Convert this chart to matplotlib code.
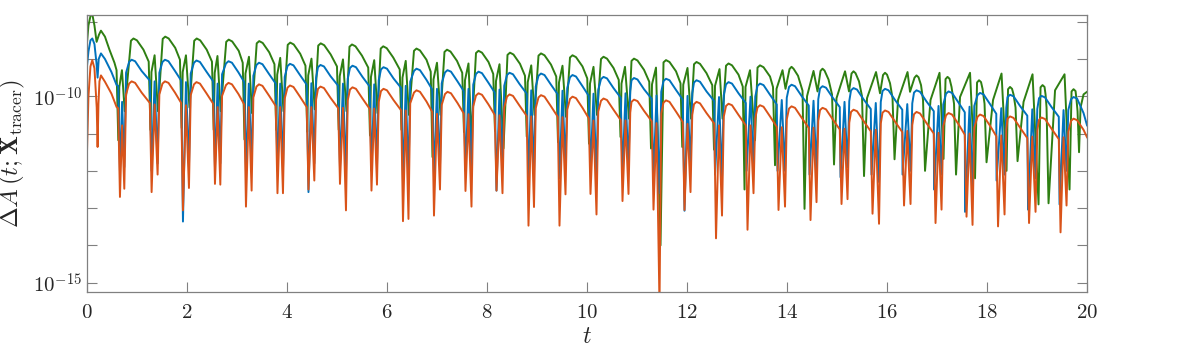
import numpy as np
import matplotlib
matplotlib.use("Agg")
import matplotlib.pyplot as plt
from matplotlib.ticker import FixedLocator, NullFormatter, FuncFormatter

plt.rcParams["mathtext.fontset"] = "cm"
plt.rcParams["font.family"] = "serif"
plt.rcParams["font.serif"] = ["DejaVu Serif"]

# palette (MATLAB-like)
BLUE = "#0072BD"; ORANGE = "#D95319"; GREEN = "#2E7F12"; AXIS = "#808080"

# ---- data: values are log10(Delta A) -------------------------------------
# orange / blue share one time base, one entry per oscillation cycle
SHOULDER_T = [0.625, 1.258, 1.885, 2.525, 3.145, 3.775, 4.395, 5.025, 5.655, 6.285, 6.905,
              7.535, 8.155, 8.795, 9.415, 10.035, 10.675, 11.295, 11.915, 12.545, 13.175,
              13.795, 14.435, 15.055, 15.675, 16.305, 16.935, 17.555, 18.185, 18.805, 19.435]
DIP1_T = [0.66, 1.293, 1.92, 2.56, 3.18, 3.81, 4.43, 5.06, 5.69, 6.32, 6.94, 7.57, 8.19, 8.83,
          9.45, 10.07, 10.71, 11.33, 11.95, 12.58, 13.21, 13.83, 14.47, 15.09, 15.71, 16.34,
          16.97, 17.59, 18.22, 18.84, 19.47]
MID_T = [0.703, 1.353, 1.98, 2.613, 3.237, 3.865, 4.488, 5.12, 5.745, 6.375, 7.0, 7.63, 8.25,
         8.885, 9.51, 10.13, 10.77, 11.39, 12.01, 12.64, 13.27, 13.895, 14.53, 15.15, 15.775,
         16.405, 17.03, 17.65, 18.285, 18.905, 19.53]
DIP2_T = [0.747, 1.413, 2.04, 2.667, 3.293, 3.92, 4.547, 5.18, 5.80, 6.43, 7.06, 7.69, 8.31,
          8.94, 9.57, 10.19, 10.83, 11.45, 12.07, 12.70, 13.33, 13.96, 14.59, 15.21, 15.84,
          16.47, 17.09, 17.71, 18.35, 18.97, 19.59]
KNEE_T = [0.782, 1.448, 2.075, 2.702, 3.328, 3.955, 4.582, 5.215, 5.835, 6.465, 7.095, 7.725,
          8.345, 8.975, 9.605, 10.225, 10.865, 11.485, 12.105, 12.735, 13.365, 13.995, 14.625,
          15.245, 15.875, 16.505, 17.125, 17.745, 18.385, 19.005, 19.625]
PRE_T = [0.843, 1.51, 2.14, 2.78, 3.39, 4.01, 4.62, 5.26, 5.88, 6.54, 7.16, 7.78, 8.40, 9.03,
         9.66, 10.28, 10.89, 11.53, 12.14, 12.78, 13.41, 14.04, 14.66, 15.28, 15.91, 16.54,
         17.18, 17.81, 18.41, 19.04, 19.68]
PEAK_T = [0.893, 1.56, 2.19, 2.83, 3.44, 4.06, 4.67, 5.31, 5.93, 6.59, 7.21, 7.83, 8.45, 9.08,
          9.71, 10.33, 10.94, 11.58, 12.19, 12.83, 13.46, 14.09, 14.71, 15.33, 15.96, 16.59,
          17.23, 17.86, 18.46, 19.09, 19.73]
CREST_T = [0.963, 1.63, 2.26, 2.90, 3.51, 4.13, 4.74, 5.38, 6.00, 6.66, 7.28, 7.90, 8.52, 9.15,
           9.78, 10.40, 11.01, 11.65, 12.26, 12.90, 13.53, 14.16, 14.78, 15.40, 16.03, 16.66,
           17.30, 17.93, 18.53, 19.16, 19.80]
FALL_T = [1.093, 1.76, 2.39, 3.03, 3.64, 4.26, 4.87, 5.51, 6.13, 6.79, 7.41, 8.03, 8.65, 9.28,
          9.91, 10.53, 11.14, 11.78, 12.39, 13.03, 13.66, 14.29, 14.91, 15.53, 16.16, 16.79,
          17.43, 18.06, 18.66, 19.29, 19.93]
BLUE_DIP1_T = [0.66, 1.293, 1.92, 2.56, 3.18, 3.81, 4.43, 5.06, 5.69, 6.32, 6.94, 7.57, 8.19,
               8.83, 9.45, 10.07, 10.71, 11.33, 11.95, 12.56, 13.19, 13.81, 14.45, 15.07, 15.69,
               16.31, 16.94, 17.56, 18.19, 18.82, 19.45]

ORANGE_LEAD_T = [0.0, 0.03, 0.07, 0.107, 0.15, 0.195, 0.213, 0.23, 0.25, 0.28, 0.36, 0.49, 0.593]
ORANGE_LEAD = [-11.54, -10.0, -9.2, -9.03, -9.25, -10.3, -11.36, -10.2, -9.6, -9.44, -9.61,
               -9.93, -10.29]
ORANGE_SHOULDER = [-10.32, -10.18, -10.18, -10.20, -10.22, -10.26, -10.29, -10.32, -10.34, -10.38,
                   -10.42, -10.46, -10.50, -10.53, -10.55, -10.59, -10.64, -10.67, -10.69, -10.73,
                   -10.78, -10.82, -10.85, -10.89, -10.94, -10.96, -11.00, -11.03, -11.07, -11.12,
                   -11.15]
ORANGE_DIP1 = [-12.70, -12.57, -13.06, -12.35, -12.96, -12.60, -12.50, -12.35, -12.53, -13.35,
               -13.20, -12.54, -12.53, -13.47, -13.47, -12.62, -12.81, -13.04, -13.05, -13.81,
               -13.58, -13.05, -13.32, -12.89, -13.15, -12.93, -13.40, -13.23, -13.49, -13.40,
               -13.65]
ORANGE_MID = [-10.78, -10.22, -10.24, -10.29, -10.29, -10.29, -10.29, -10.31, -10.33, -10.38,
              -10.47, -10.48, -10.51, -10.54, -10.56, -10.65, -10.65, -10.72, -10.74, -10.78,
              -10.78, -10.83, -10.84, -10.87, -10.90, -10.93, -10.98, -11.00, -11.05, -11.08,
              -11.10]
ORANGE_DIP2 = [-12.48, -12.10, -12.46, -12.37, -12.53, -12.60, -12.26, -13.06, -12.37, -13.29,
               -12.50, -12.96, -12.60, -12.97, -12.63, -13.17, -12.62, -15.60, -12.57, -13.20,
               -12.60, -12.96, -12.84, -12.76, -13.42, -12.89, -13.04, -13.45, -13.17, -13.10,
               -12.93]
ORANGE_KNEE = [-9.95, -9.95, -9.97, -9.99, -10.03, -10.06, -10.09, -10.11, -10.15, -10.19, -10.23,
               -10.27, -10.30, -10.32, -10.36, -10.41, -10.44, -10.46, -10.50, -10.55, -10.59,
               -10.62, -10.66, -10.71, -10.73, -10.77, -10.80, -10.84, -10.89, -10.92, -10.95]
ORANGE_PRE = [-9.66, -9.66, -9.68, -9.70, -9.74, -9.77, -9.80, -9.82, -9.86, -9.90, -9.94, -9.98,
              -10.01, -10.03, -10.07, -10.12, -10.15, -10.17, -10.21, -10.26, -10.30, -10.33,
              -10.37, -10.42, -10.44, -10.48, -10.51, -10.55, -10.60, -10.63, -10.66]
ORANGE_PEAK = [-9.60, -9.60, -9.62, -9.64, -9.68, -9.71, -9.74, -9.76, -9.80, -9.84, -9.88, -9.92,
               -9.95, -9.97, -10.01, -10.06, -10.09, -10.11, -10.15, -10.20, -10.24, -10.27,
               -10.31, -10.36, -10.38, -10.42, -10.45, -10.49, -10.54, -10.57, -10.60]
ORANGE_CREST = [-9.64, -9.64, -9.66, -9.68, -9.72, -9.75, -9.78, -9.80, -9.84, -9.88, -9.92,
                -9.96, -9.99, -10.01, -10.05, -10.10, -10.13, -10.15, -10.19, -10.24, -10.28,
                -10.31, -10.35, -10.40, -10.42, -10.46, -10.49, -10.53, -10.58, -10.61, -10.64]
ORANGE_FALL = [-9.90, -9.90, -9.92, -9.94, -9.98, -10.01, -10.04, -10.06, -10.10, -10.14, -10.18,
               -10.22, -10.25, -10.27, -10.31, -10.36, -10.39, -10.41, -10.45, -10.50, -10.54,
               -10.57, -10.61, -10.66, -10.68, -10.72, -10.75, -10.79, -10.84, -10.87, -10.90]
ORANGE_TAIL_T = [20.0]
ORANGE_TAIL = [-11.1]

BLUE_LEAD_T = [0.0, 0.03, 0.07, 0.107, 0.15, 0.19, 0.213, 0.235, 0.28, 0.36, 0.49, 0.593]
BLUE_LEAD = [-9.2, -8.8, -8.5, -8.45, -8.6, -9.1, -9.5, -9.0, -8.85, -9.0, -9.35, -9.7]
BLUE_SHOULDER = [-9.72, -9.58, -9.58, -9.60, -9.62, -9.66, -9.69, -9.72, -9.74, -9.78, -9.82,
                 -9.86, -9.90, -9.93, -9.95, -9.99, -10.04, -10.07, -10.09, -10.13, -10.18,
                 -10.22, -10.25, -10.29, -10.34, -10.36, -10.40, -10.43, -10.47, -10.52, -10.55]
BLUE_DIP1 = [-12.0, -12.0, -13.36, -11.9, -12.0, -12.0, -12.57, -11.9, -12.0, -12.3, -12.2, -12.0,
             -12.53, -12.2, -12.2, -12.0, -12.1, -12.2, -13.07, -12.1, -12.0, -12.0, -12.1,
             -12.17, -12.1, -12.1, -12.5, -13.1, -12.26, -13.04, -12.9]
BLUE_MID = [-10.15, -9.60, -9.62, -9.66, -9.66, -9.66, -9.65, -9.66, -9.68, -9.72, -9.80, -9.80,
            -9.82, -9.84, -9.85, -9.93, -9.92, -9.98, -9.99, -10.02, -10.01, -10.10, -10.12,
            -10.15, -10.18, -10.21, -10.26, -10.28, -10.32, -10.35, -10.37]
BLUE_DIP2 = [-11.9, -11.8, -11.9, -11.8, -11.9, -12.0, -11.8, -12.1, -11.9, -12.2, -11.9, -12.0,
             -11.9, -12.1, -11.9, -12.1, -11.9, -12.6, -11.9, -12.2, -11.9, -12.0, -12.0, -11.9,
             -12.3, -12.0, -12.1, -12.4, -12.1, -12.2, -12.0]
BLUE_KNEE = [-9.37, -9.37, -9.39, -9.41, -9.45, -9.48, -9.51, -9.53, -9.57, -9.61, -9.65, -9.69,
             -9.72, -9.74, -9.78, -9.83, -9.86, -9.88, -9.92, -9.97, -10.01, -10.04, -10.08,
             -10.13, -10.15, -10.19, -10.22, -10.26, -10.31, -10.34, -10.37]
BLUE_PRE = [-9.08, -9.08, -9.10, -9.12, -9.16, -9.19, -9.22, -9.24, -9.28, -9.32, -9.36, -9.40,
            -9.43, -9.45, -9.49, -9.54, -9.57, -9.59, -9.63, -9.68, -9.72, -9.75, -9.79, -9.84,
            -9.86, -9.90, -9.93, -9.97, -10.02, -10.05, -10.08]
BLUE_PEAK = [-9.02, -9.02, -9.04, -9.06, -9.10, -9.13, -9.16, -9.18, -9.22, -9.26, -9.30, -9.34,
             -9.37, -9.39, -9.43, -9.48, -9.51, -9.53, -9.57, -9.62, -9.66, -9.69, -9.73, -9.78,
             -9.80, -9.84, -9.87, -9.91, -9.96, -9.99, -10.02]
BLUE_CREST = [-9.06, -9.06, -9.08, -9.10, -9.14, -9.17, -9.20, -9.22, -9.26, -9.30, -9.34, -9.38,
              -9.41, -9.43, -9.47, -9.52, -9.55, -9.57, -9.61, -9.66, -9.70, -9.73, -9.77, -9.82,
              -9.84, -9.88, -9.91, -9.95, -10.00, -10.03, -10.06]
BLUE_FALL = [-9.32, -9.32, -9.34, -9.36, -9.40, -9.43, -9.46, -9.48, -9.52, -9.56, -9.60, -9.64,
             -9.67, -9.69, -9.73, -9.78, -9.81, -9.83, -9.87, -9.92, -9.96, -9.99, -10.03,
             -10.08, -10.10, -10.14, -10.17, -10.21, -10.26, -10.29, -10.45]
BLUE_TAIL_T = [20.0]
BLUE_TAIL = [-10.78]

# green: its own time base (its first dip drifts ahead of the others after t~13)
GREEN_LEAD_T = [0.0, 0.03, 0.07, 0.107, 0.15, 0.193, 0.24, 0.28, 0.36, 0.45, 0.55]
GREEN_LEAD = [-8.58, -8.1, -7.85, -7.8, -8.1, -8.54, -8.35, -8.24, -8.4, -8.75, -9.1]
GREEN_S1_T = [0.592, 1.235, 1.86, 2.50, 3.115, 3.75, 4.37, 5.00, 5.625, 6.255, 6.875, 7.505,
              8.125, 8.76, 9.385, 10.005, 10.635, 11.245, 11.87, 12.505, 13.115, 13.72, 14.31,
              14.90, 15.50, 16.11, 16.72, 17.34, 17.95, 18.57, 19.19]
GREEN_S1 = [-9.30, -9.07, -9.02, -9.07, -9.10, -9.14, -9.18, -9.20, -9.23, -9.28, -9.34, -9.37,
            -9.40, -9.45, -9.47, -9.52, -9.56, -9.61, -9.65, -9.70, -9.74, -9.75, -9.85, -9.95,
            -10.0, -10.05, -10.1, -10.2, -10.2, -10.3, -10.3]
GREEN_A_T = [0.627, 1.27, 1.895, 2.535, 3.15, 3.785, 4.405, 5.035, 5.66, 6.29, 6.91, 7.54, 8.16,
             8.795, 9.42, 10.04, 10.67, 11.28, 11.905, 12.54, 13.15, 13.76, 14.35, 14.94, 15.54,
             16.15, 16.76, 17.38, 17.99, 18.61, 19.23]
GREEN_A = [-11.18, -10.9, -10.85, -10.9, -11.16, -10.9, -10.95, -10.9, -11.05, -10.9, -11.63,
           -10.96, -10.93, -11.08, -11.23, -11.27, -11.09, -11.4, -11.36, -11.43, -12.5, -11.85,
           -13.02, -11.83, -12.14, -11.69, -12.0, -12.1, -11.77, -11.74, -12.87]
GREEN_S2_T = [0.647, 1.29, 1.915, 2.555, 3.17, 3.805, 4.425, 5.055, 5.68, 6.31, 6.93, 7.56, 8.18,
              8.815, 9.44, 10.06, 10.69, 11.30, 11.925, 12.56, 13.17, 13.79, 14.40, 14.99, 15.60,
              16.22, 16.87, 17.46, 18.12, 18.73, 19.36]
GREEN_S2 = [-9.75, -9.35, -9.35, -9.37, -9.39, -9.42, -9.44, -9.46, -9.48, -9.50, -9.55, -9.57,
            -9.59, -9.62, -9.63, -9.66, -9.66, -9.68, -9.69, -9.72, -9.75, -9.80, -10.0, -10.05,
            -10.05, -10.1, -10.1, -10.02, -10.1, -10.15, -9.84]
GREEN_M_T = [0.70, 1.353, 1.98, 2.61, 3.24, 3.865, 4.49, 5.12, 5.745, 6.375, 7.0, 7.63, 8.25,
             8.885, 9.51, 10.13, 10.76, 11.38, 12.01, 12.65, 13.26, 13.91, 14.53, 15.16, 15.78,
             16.41, 17.05, 17.66, 18.29, 18.91, 19.55]
GREEN_M = [-9.30, -8.90, -8.90, -8.92, -8.94, -8.97, -8.99, -9.01, -9.03, -9.05, -9.10, -9.12,
           -9.14, -9.17, -9.18, -9.21, -9.21, -9.23, -9.24, -9.27, -9.30, -9.30, -9.32, -9.33,
           -9.35, -9.35, -9.37, -9.37, -9.39, -9.41, -9.41]
GREEN_B_T = [0.755, 1.42, 2.05, 2.675, 3.30, 3.93, 4.555, 5.19, 5.81, 6.44, 7.07, 7.69, 8.33,
             8.95, 9.58, 10.20, 10.84, 11.47, 12.08, 12.71, 13.36, 13.97, 14.61, 15.24, 15.86,
             16.46, 17.13, 17.76, 18.39, 19.03, 19.65]
GREEN_B = [-10.4, -10.4, -10.3, -10.4, -10.45, -10.4, -10.35, -10.4, -10.45, -10.5, -10.5, -11.1,
           -11.4, -10.5, -10.55, -10.5, -10.6, -14.0, -10.6, -10.6, -11.18, -9.80, -9.87, -9.87,
           -9.92, -9.88, -11.68, -12.2, -12.0, -12.9, -12.5]
GREEN_PRE_T = [0.88, 1.515, 2.145, 2.785, 3.395, 4.015, 4.625, 5.25, 5.875, 6.54, 7.15, 7.78,
               8.41, 9.03, 9.66, 10.28, 10.89, 11.53, 12.14, 12.78, 13.41, 14.05, 14.67, 15.29,
               15.92, 16.55, 17.17, 17.80, 18.42, 19.07, 19.69]
GREEN_PRE = [-8.51, -8.46, -8.51, -8.54, -8.58, -8.62, -8.64, -8.67, -8.72, -8.78, -8.81, -8.84,
             -8.89, -8.91, -8.96, -9.00, -9.05, -9.09, -9.14, -9.18, -9.23, -9.27, -9.32, -9.39,
             -9.43, -9.50, -9.54, -9.63, -9.81, -9.76, -9.87]
GREEN_P_T = [0.93, 1.565, 2.195, 2.835, 3.445, 4.065, 4.675, 5.30, 5.925, 6.59, 7.20, 7.83, 8.46,
             9.08, 9.71, 10.33, 10.94, 11.58, 12.19, 12.83, 13.46, 14.09, 14.71, 15.33, 15.96,
             16.59, 17.21, 17.84, 18.46, 19.11, 19.73]
GREEN_P = [-8.45, -8.40, -8.45, -8.48, -8.52, -8.56, -8.58, -8.61, -8.66, -8.72, -8.75, -8.78,
           -8.83, -8.85, -8.90, -8.94, -8.99, -9.03, -9.08, -9.12, -9.17, -9.21, -9.26, -9.33,
           -9.37, -9.44, -9.48, -9.57, -9.75, -9.70, -9.81]
GREEN_CREST_T = [1.0, 1.635, 2.265, 2.905, 3.515, 4.135, 4.745, 5.37, 5.995, 6.66, 7.27, 7.90,
                 8.53, 9.15, 9.78, 10.40, 11.01, 11.65, 12.26, 12.90, 13.53, 14.13, 14.75, 15.37,
                 16.0, 16.63, 17.25, 17.88, 18.50, 19.15, 19.77]
GREEN_CREST = [-8.50, -8.45, -8.50, -8.53, -8.57, -8.61, -8.63, -8.66, -8.71, -8.77, -8.80,
               -8.83, -8.88, -8.90, -8.95, -8.99, -9.04, -9.08, -9.13, -9.17, -9.22, -9.26,
               -9.31, -9.38, -9.42, -9.49, -9.53, -9.62, -9.80, -9.75, -9.86]
GREEN_F_T = [1.13, 1.765, 2.395, 3.035, 3.645, 4.265, 4.875, 5.50, 6.125, 6.79, 7.40, 8.03, 8.66,
             9.28, 9.91, 10.53, 11.14, 11.78, 12.39, 13.03, 13.66, 14.22, 14.83, 15.44, 16.06,
             16.68, 17.29, 17.91, 18.53, 19.17, 19.79]
GREEN_F = [-8.75, -8.70, -8.75, -8.78, -8.82, -8.86, -8.88, -8.91, -8.96, -9.02, -9.05, -9.08,
           -9.13, -9.15, -9.20, -9.24, -9.29, -9.33, -9.38, -9.42, -9.47, -9.45, -9.55, -9.60,
           -9.65, -9.70, -9.75, -9.80, -9.95, -9.95, -10.1]
GREEN_TAIL_T = [19.81, 19.84, 19.87, 19.93, 20.0]
GREEN_TAIL = [-10.4, -11.5, -10.3, -9.95, -9.88]

X_TICKS = list(range(0, 21, 2))
Y_MAJOR = [1e-15, 1e-10]
Y_MINOR = [1e-14, 1e-13, 1e-12, 1e-11, 1e-9, 1e-8]


def trace(lead_t, lead_v, cyc_t, cyc_v, tail_t, tail_v):
    """Chain lead-in, per-cycle feature points (in time order) and tail."""
    t = np.concatenate([lead_t, np.column_stack(cyc_t).ravel(), tail_t])
    v = np.concatenate([lead_v, np.column_stack(cyc_v).ravel(), tail_v])
    return t, 10.0 ** v


def main():
    fig = plt.figure(figsize=(11.96, 3.49), dpi=100)
    ax = fig.add_axes([0.0727, 0.1633, 0.8362, 0.7937])

    gt, gv = trace(GREEN_LEAD_T, GREEN_LEAD,
                   [GREEN_S1_T, GREEN_A_T, GREEN_S2_T, GREEN_M_T, GREEN_B_T, GREEN_PRE_T,
                    GREEN_P_T, GREEN_CREST_T, GREEN_F_T],
                   [GREEN_S1, GREEN_A, GREEN_S2, GREEN_M, GREEN_B, GREEN_PRE, GREEN_P,
                    GREEN_CREST, GREEN_F],
                   GREEN_TAIL_T, GREEN_TAIL)
    bt, bv = trace(BLUE_LEAD_T, BLUE_LEAD,
                   [SHOULDER_T, BLUE_DIP1_T, MID_T, DIP2_T, KNEE_T, PRE_T, PEAK_T, CREST_T,
                    FALL_T],
                   [BLUE_SHOULDER, BLUE_DIP1, BLUE_MID, BLUE_DIP2, BLUE_KNEE, BLUE_PRE,
                    BLUE_PEAK, BLUE_CREST, BLUE_FALL],
                   BLUE_TAIL_T, BLUE_TAIL)
    ot, ov = trace(ORANGE_LEAD_T, ORANGE_LEAD,
                   [SHOULDER_T, DIP1_T, MID_T, DIP2_T, KNEE_T, PRE_T, PEAK_T, CREST_T, FALL_T],
                   [ORANGE_SHOULDER, ORANGE_DIP1, ORANGE_MID, ORANGE_DIP2, ORANGE_KNEE,
                    ORANGE_PRE, ORANGE_PEAK, ORANGE_CREST, ORANGE_FALL],
                   ORANGE_TAIL_T, ORANGE_TAIL)

    ax.semilogy(gt, gv, color=GREEN, lw=1.4, solid_joinstyle="round")
    ax.semilogy(bt, bv, color=BLUE, lw=1.4, solid_joinstyle="round")
    ax.semilogy(ot, ov, color=ORANGE, lw=1.4, solid_joinstyle="round")

    ax.set_xlim(0, 20)
    ax.set_ylim(10 ** -15.25, 10 ** -7.82)
    ax.set_xticks(X_TICKS)
    ax.xaxis.set_major_formatter(FuncFormatter(lambda v, p: f"${v:g}$"))
    ax.yaxis.set_major_locator(FixedLocator(Y_MAJOR))
    ax.yaxis.set_minor_locator(FixedLocator(Y_MINOR))
    ax.yaxis.set_minor_formatter(NullFormatter())
    ax.yaxis.set_major_formatter(
        FuncFormatter(lambda v, p: "$10^{%d}$" % round(np.log10(v))))

    for s in ax.spines.values():
        s.set_color(AXIS); s.set_linewidth(0.9)
    ax.tick_params(which="both", direction="in", top=True, right=True,
                   length=7, width=0.8, color=AXIS, labelsize=15,
                   labelcolor="#262626")
    ax.tick_params(axis="x", pad=8)

    ax.set_xlabel("$t$", fontsize=17, color="#262626", labelpad=2)
    ax.set_ylabel(r"$\Delta A\,(t;\mathbf{X}_{\mathrm{tracer}})$", fontsize=18,
                  color="#262626", labelpad=4)

    fig.savefig("out.png", dpi=100, facecolor="white")


if __name__ == "__main__":
    main()
